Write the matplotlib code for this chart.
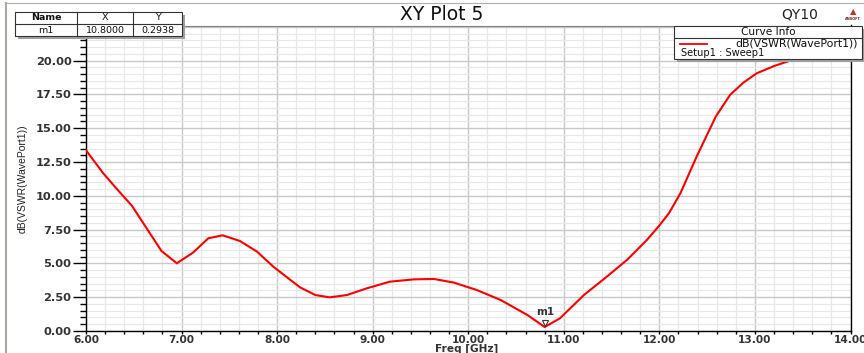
import matplotlib
matplotlib.use("Agg")
import matplotlib.pyplot as plt
from matplotlib.patches import Rectangle
from matplotlib.lines import Line2D
from matplotlib.ticker import MultipleLocator, FormatStrFormatter

plt.rcParams['font.family'] = ['DejaVu Sans']

# Swept response of the wave port
freq_ghz = [6.00, 6.18, 6.34, 6.48, 6.60, 6.79, 6.95, 7.12, 7.28, 7.43, 7.61, 7.79,
            7.96, 8.14, 8.24, 8.40, 8.55, 8.73, 8.94, 9.18, 9.43, 9.64, 9.85, 10.09,
            10.34, 10.62, 10.80, 10.96, 11.21, 11.45, 11.66, 11.87, 11.99, 12.10,
            12.22, 12.39, 12.59, 12.74, 12.88, 13.02, 13.20, 13.41, 13.60, 13.80, 14.00]
vswr_db = [13.37, 11.67, 10.37, 9.27, 7.97, 5.92, 5.01, 5.80, 6.86, 7.08, 6.66, 5.87,
           4.76, 3.77, 3.23, 2.66, 2.49, 2.66, 3.16, 3.65, 3.82, 3.85, 3.58, 3.03,
           2.29, 1.18, 0.2938, 0.94, 2.66, 4.02, 5.25, 6.74, 7.72, 8.71,
           10.19, 12.90, 15.86, 17.47, 18.38, 19.07, 19.60, 20.10, 20.35, 20.50, 20.60]

marker_name = "m1"
marker_x = 10.8000
marker_y = 0.2938

W, H = 864, 353
fig = plt.figure(figsize=(W / 100, H / 100), dpi=100)
fig.patch.set_facecolor("white")


def px(x, y):
    return (x / W, 1 - y / H)


left, right = 86 / W, 850.5 / W
bottom, top = 1 - 331 / H, 1 - 25.5 / H
ax = fig.add_axes([left, bottom, right - left, top - bottom])

ax.plot(freq_ghz, vswr_db, color="#ff0000", lw=1.5, zorder=3)

ax.set_xlim(6, 14)
ax.set_ylim(0, 22.6)
ax.xaxis.set_major_locator(MultipleLocator(1))
ax.xaxis.set_minor_locator(MultipleLocator(0.2))
ax.yaxis.set_major_locator(MultipleLocator(2.5))
ax.yaxis.set_minor_locator(MultipleLocator(0.5))
ax.xaxis.set_major_formatter(FormatStrFormatter("%.2f"))
ax.yaxis.set_major_formatter(FormatStrFormatter("%.2f"))

ax.grid(which="major", color="#c8c8c8", lw=1.0, zorder=0)
ax.grid(which="minor", color="#e8e8e8", lw=0.9, zorder=0)
ax.set_axisbelow(True)

ax.tick_params(axis="y", which="major", direction="out", length=9.4, width=1.0,
               labelsize=8.2, pad=1)
ax.tick_params(axis="y", which="minor", direction="out", length=4.3, width=1.0)
ax.tick_params(axis="x", which="major", direction="out", length=2.5, width=1.0,
               labelsize=7.6, pad=0.3)
ax.tick_params(axis="x", which="minor", direction="out", length=2.2, width=1.0)
for lab in ax.get_xticklabels() + ax.get_yticklabels():
    lab.set_fontweight("bold")
    lab.set_color("#333333")

ax.spines["top"].set_color("#808080")
ax.spines["top"].set_linewidth(0.8)
for side in ["left", "bottom", "right"]:
    ax.spines[side].set_color("#000000")
    ax.spines[side].set_linewidth(1.0)

fig.text(*px(467, 348.5), "Freq [GHz]", ha="center", va="center", fontsize=7.6,
         fontweight="bold", color="#333333")
ax.set_ylabel("dB(VSWR(WavePort1))", fontsize=7.5, color="#222222", labelpad=6,
              family="Liberation Sans")

# marker m1
ax.plot([marker_x], [marker_y + 0.3], marker="v", ms=5, mfc="white",
        mec="#333333", mew=0.8, zorder=4)
ax.text(marker_x, marker_y + 0.75, marker_name, ha="center", va="bottom",
        fontsize=7.5, fontweight="bold", color="#333333", zorder=4)

# frame lines of the plot window
fig.add_artist(Line2D([6 / W, 6 / W], [0, 1 - 3 / H], color="#a8a8a0", lw=1.5))
fig.add_artist(Line2D([6 / W, 1], [1 - 3 / H, 1 - 3 / H], color="#b0b0b0", lw=0.8))

# title and project name
fig.text(*px(442, 15), "XY Plot 5", ha="center", va="center", fontsize=13.5, color="#111111")
fig.text(*px(800, 15), "QY10", ha="center", va="center", fontsize=10, color="#222222")
fig.text(*px(853, 19), "ANSOFT", ha="center", va="center", fontsize=2.5,
         color="#7a2020", fontweight="bold")
fig.text(*px(853, 12), "\u25B2", ha="center", va="center", fontsize=6, color="#c83030")


def box(x0, y0, x1, y1, shadow=True):
    if shadow:
        fig.add_artist(Rectangle(px(x0 + 3, y1 + 3), (x1 - x0) / W, (y1 - y0) / H,
                                 transform=fig.transFigure, facecolor="#a0a0a0",
                                 edgecolor="none", zorder=5))
    fig.add_artist(Rectangle(px(x0, y1), (x1 - x0) / W, (y1 - y0) / H,
                             transform=fig.transFigure, facecolor="white",
                             edgecolor="#333333", lw=0.8, zorder=6))


# marker table
box(15, 12, 182, 36)
fig.add_artist(Line2D([15 / W, 182 / W], [1 - 23.5 / H] * 2, color="#333333", lw=0.8, zorder=7))
for xc in [77, 133]:
    fig.add_artist(Line2D([xc / W] * 2, [1 - 12 / H, 1 - 36 / H], color="#333333", lw=0.8, zorder=7))
table_cells = [("Name", "X", "Y"), (marker_name, f"{marker_x:.4f}", f"{marker_y:.4f}")]
col_centers = [46, 105, 157.5]
row_centers = [17.6, 30.2]
for r, row in enumerate(table_cells):
    for c, txt in enumerate(row):
        fig.text(*px(col_centers[c], row_centers[r]), txt, ha="center", va="center",
                 fontsize=6.8, color="#111111", zorder=8,
                 fontweight="bold" if (r == 0 and c == 0) else "normal")

# curve info legend
box(674, 26, 862, 59)
fig.add_artist(Line2D([674 / W, 862 / W], [1 - 37.5 / H] * 2, color="#333333", lw=0.8, zorder=7))
fig.text(*px(768, 32), "Curve Info", ha="center", va="center", fontsize=7.6,
         color="#111111", zorder=8)
fig.add_artist(Line2D([680 / W, 707 / W], [1 - 43.5 / H] * 2, color="#ff0000", lw=1.3, zorder=8))
fig.text(*px(858, 43.8), "dB(VSWR(WavePort1))", ha="right", va="center", fontsize=7.8,
         color="#111111", zorder=8)
fig.text(*px(681, 53), "Setup1 : Sweep1", ha="left", va="center", fontsize=7.1,
         color="#111111", zorder=8)

fig.savefig("out.png", dpi=100)
